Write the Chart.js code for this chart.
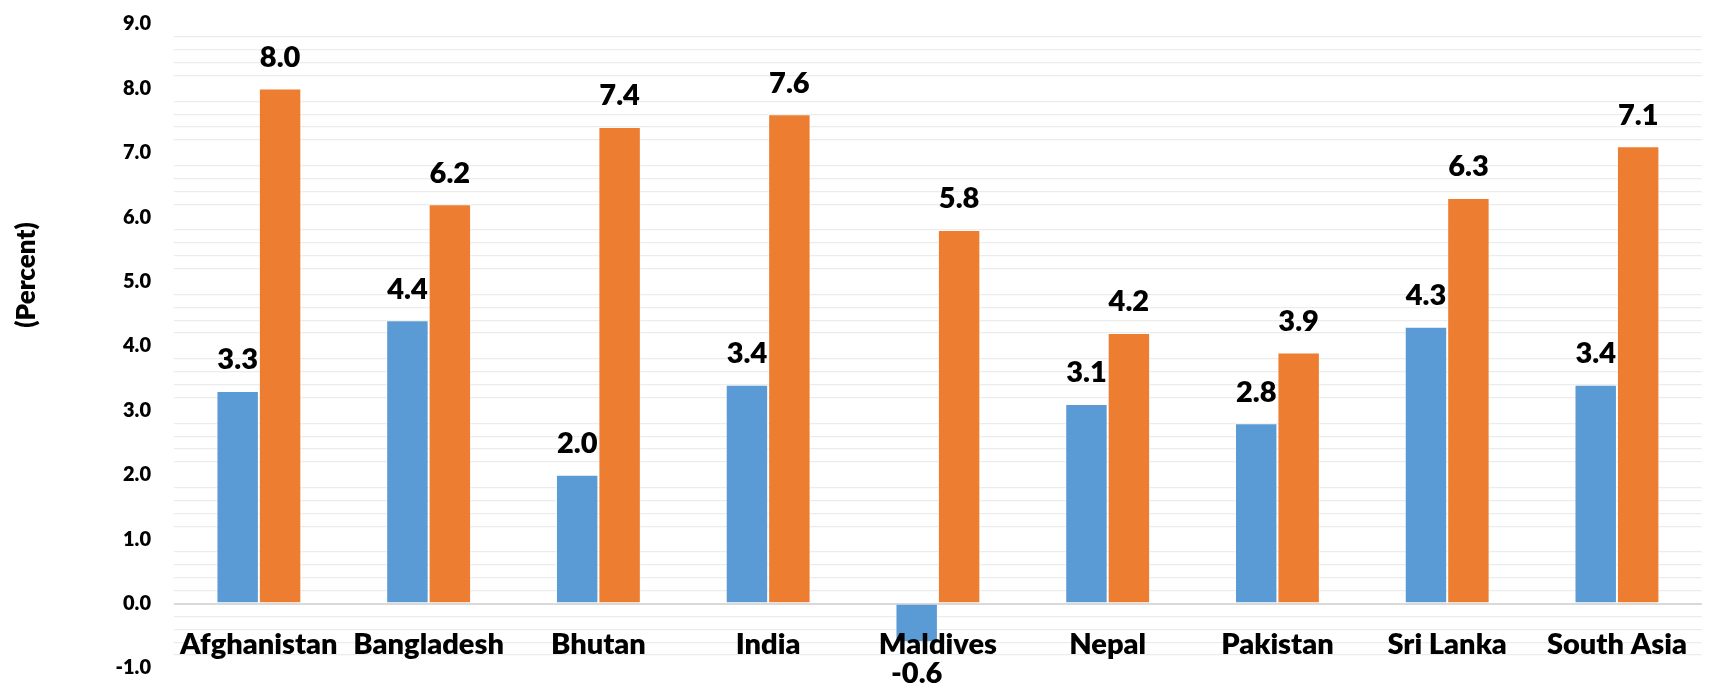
<!DOCTYPE html>
<html>
<head>
<meta charset="utf-8">
<title>Growth by country</title>
<script src="https://cdn.jsdelivr.net/npm/chart.js@4.4.1/dist/chart.umd.min.js"></script>
<style>
    html, body { margin: 0; padding: 0; background: #ffffff; }
    #wrap { width: 1711px; height: 684px; }
</style>
</head>
<body>
<div id="wrap"><canvas id="growth-chart" width="1711" height="684"></canvas></div>
<script>
// Chart data
const categories = ['Afghanistan', 'Bangladesh', 'Bhutan', 'India', 'Maldives', 'Nepal', 'Pakistan', 'Sri Lanka', 'South Asia'];
const seriesOne = [3.3, 4.4, 2.0, 3.4, -0.6, 3.1, 2.8, 4.3, 3.4];
const seriesTwo = [8.0, 6.2, 7.4, 7.6, 5.8, 4.2, 3.9, 6.3, 7.1];
const yMin = -1;
const yMax = 9;
const yTitle = '(Percent)';

const fontFamily = 'Lato, "Open Sans", sans-serif';
const heavy = 800;
const isWhole = v => Math.abs(v - Math.round(v)) < 1e-6;

// Value labels above (or below, for negatives) each bar
const valueLabels = {
    id: 'valueLabels',
    afterDatasetsDraw(chart) {
        const ctx = chart.ctx;
        ctx.save();
        ctx.font = heavy + ' 29px ' + fontFamily;
        ctx.fillStyle = '#000000';
        ctx.textAlign = 'center';
        ctx.textBaseline = 'middle';
        chart.data.datasets.forEach((ds, i) => {
            chart.getDatasetMeta(i).data.forEach((bar, j) => {
                const v = ds.data[j];
                const y = v >= 0 ? bar.y - 31 : bar.y + 31;
                ctx.fillText(v.toFixed(1), bar.x, y);
            });
        });
        ctx.restore();
    }
};

// Rotated axis title on the left
const axisTitle = {
    id: 'axisTitle',
    afterDraw(chart) {
        const ctx = chart.ctx;
        ctx.save();
        ctx.translate(27, 275);
        ctx.rotate(-Math.PI / 2);
        ctx.font = heavy + ' 26px ' + fontFamily;
        ctx.fillStyle = '#000000';
        ctx.textAlign = 'center';
        ctx.textBaseline = 'middle';
        ctx.fillText(yTitle, 0, 0);
        ctx.restore();
    }
};

new Chart(document.getElementById('growth-chart'), {
    type: 'bar',
    data: {
        labels: categories,
        datasets: [{
            label: 'Series 1',
            data: seriesOne,
            backgroundColor: '#5B9BD5',
            borderColor: 'rgba(255,255,255,0.5)',
            borderWidth: 1,
            barPercentage: 1.0,
            categoryPercentage: 0.5
        }, {
            label: 'Series 2',
            data: seriesTwo,
            backgroundColor: '#ED7D31',
            borderColor: 'rgba(255,255,255,0.5)',
            borderWidth: 1,
            barPercentage: 1.0,
            categoryPercentage: 0.5
        }]
    },
    options: {
        responsive: false,
        animation: false,
        devicePixelRatio: 1,
        layout: { padding: { left: 0, right: 0, top: 24, bottom: 16 } },
        plugins: {
            legend: { display: false },
            tooltip: { enabled: false }
        },
        scales: {
            x: {
                position: { y: 0 },
                grid: { display: false, drawTicks: false },
                border: { display: false },
                ticks: {
                    z: 1, // category names sit on top of the negative bar
                    padding: 24,
                    color: '#000000',
                    font: { family: fontFamily, size: 29, weight: heavy },
                    maxRotation: 0,
                    autoSkip: false
                }
            },
            y: {
                min: yMin,
                max: yMax,
                afterFit(scale) { scale.width = 174; },
                grid: {
                    drawTicks: true,
                    tickLength: 23,
                    tickColor: 'rgba(0,0,0,0)',
                    lineWidth: ctx => (ctx.tick && ctx.tick.value === 0) ? 2 : 1.3,
                    color: ctx => {
                        const v = ctx.tick ? ctx.tick.value : 0;
                        if (Math.abs(v) < 1e-6) return '#d9d9d9';
                        return isWhole(v) ? 'rgba(0,0,0,0)' : '#ececec';
                    }
                },
                border: { display: false },
                ticks: {
                    stepSize: 0.2,
                    autoSkip: false,
                    padding: 0,
                    color: '#000000',
                    font: { family: fontFamily, size: 20, weight: heavy },
                    callback: v => isWhole(v) ? Number(v).toFixed(1) : ''
                }
            }
        }
    },
    plugins: [valueLabels, axisTitle]
});
</script>
</body>
</html>
